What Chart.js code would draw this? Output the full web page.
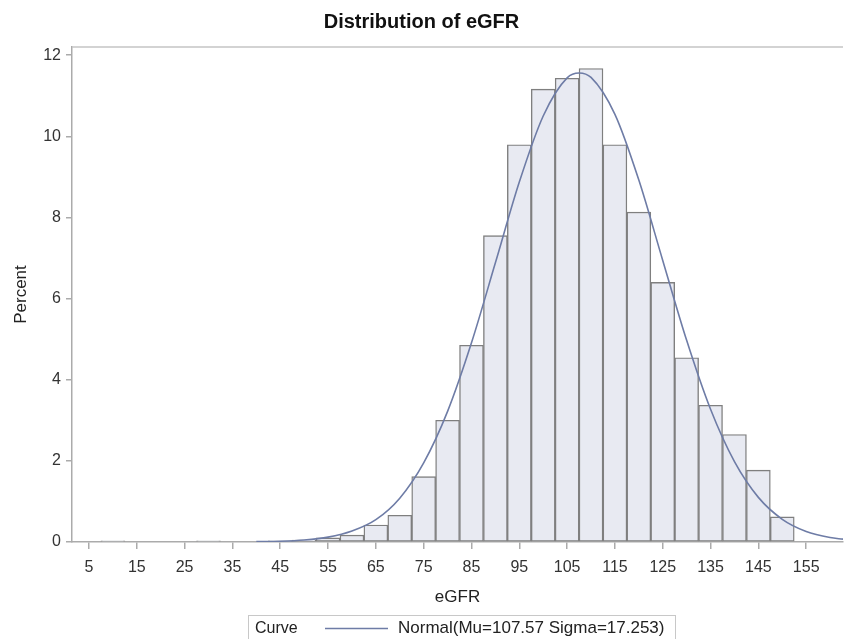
<!DOCTYPE html>
<html>
<head>
<meta charset="utf-8">
<title>Distribution of eGFR</title>
<script src="https://cdn.jsdelivr.net/npm/chart.js@4.4.1/dist/chart.umd.min.js"></script>
<style>
  html, body { margin: 0; padding: 0; background: #fff; }
  #wrap { width: 844px; height: 639px; }
</style>
</head>
<body>
<div id="wrap"><canvas id="histChart"></canvas></div>
<script>
// ヒストグラム（ビン中央値とパーセント）
const binMid = [10, 30, 45, 50, 55, 60, 65, 70, 75, 80, 85, 90, 95, 100, 105, 110, 115, 120, 125, 130, 135, 140, 145, 150];
const binPct = [0.03, 0.03, 0.03, 0.05, 0.10, 0.17, 0.42, 0.66, 1.61, 3.00, 4.85, 7.55, 9.79, 11.16, 11.43, 11.67, 9.79, 8.13, 6.40, 4.54, 3.37, 2.65, 1.77, 0.62];

// 正規曲線（図から読み取った点）
const curveX = [40, 45, 50, 55, 60, 65, 70, 75, 80, 85, 90, 95, 100, 105, 107.5, 110, 115, 120, 125, 130, 135, 140, 145, 150, 155, 160, 162.7];
const curveY = [0.01, 0.02, 0.05, 0.12, 0.27, 0.55, 1.08, 1.95, 3.22, 4.91, 6.88, 8.87, 10.50, 11.44, 11.56, 11.45, 10.54, 8.92, 6.94, 4.97, 3.27, 1.98, 1.10, 0.56, 0.26, 0.11, 0.07];

// 軸の目盛
const xTicks = [5, 15, 25, 35, 45, 55, 65, 75, 85, 95, 105, 115, 125, 135, 145, 155];
const yTicks = [0, 2, 4, 6, 8, 10, 12];
const xRange = [1.45, 162.7];
const yRange = [0, 12.2];

const FONT = "'Liberation Sans', Arial, sans-serif";
const AXIS_GRAY = '#ababab';
const CURVE_COLOR = '#6e7ca6';

// 凡例（枠付き）と上枠線
const frameLegend = {
    id: 'frameLegend',
    afterDraw(chart) {
        const ctx = chart.ctx;
        const area = chart.chartArea;
        ctx.save();
        // 上の枠線
        ctx.strokeStyle = '#c4c4c4';
        ctx.lineWidth = 1.5;
        ctx.beginPath();
        ctx.moveTo(area.left, area.top);
        ctx.lineTo(area.right, area.top);
        ctx.stroke();

        // 凡例ボックス
        const line = chart.data.datasets.find(d => d.type === 'line');
        const boxL = 248, boxR = 675, boxT = 615, boxB = 640;
        ctx.strokeStyle = '#c8c8c8';
        ctx.lineWidth = 1;
        ctx.strokeRect(boxL + 0.5, boxT + 0.5, boxR - boxL, boxB - boxT);
        const cy = (boxT + boxB) / 2 + 1;
        ctx.font = '16px ' + FONT;
        ctx.fillStyle = '#222';
        ctx.textBaseline = 'middle';
        ctx.textAlign = 'left';
        ctx.fillText('Curve', 255, cy);
        ctx.strokeStyle = line.borderColor;
        ctx.lineWidth = line.borderWidth;
        ctx.beginPath();
        ctx.moveTo(325, cy);
        ctx.lineTo(388, cy);
        ctx.stroke();
        ctx.font = '17px ' + FONT;
        ctx.fillText(line.label, 398, cy);
        ctx.restore();
    }
};

const ctx = document.getElementById('histChart').getContext('2d');
new Chart(ctx, {
    type: 'bar',
    data: {
        datasets: [
            {
                type: 'line',
                label: 'Normal(Mu=107.57 Sigma=17.253)',
                data: curveX.map((x, i) => ({ x: x, y: curveY[i] })),
                borderColor: CURVE_COLOR,
                borderWidth: 1.6,
                pointRadius: 0,
                cubicInterpolationMode: 'monotone',
                fill: false,
                order: 1
            },
            {
                type: 'bar',
                label: 'eGFR',
                data: binMid.map((x, i) => ({ x: x, y: binPct[i] })),
                backgroundColor: '#e8eaf2',
                borderColor: '#7f7f7f',
                borderWidth: 1.4,
                borderSkipped: false,
                barPercentage: 1,
                categoryPercentage: 1,
                order: 2
            }
        ]
    },
    options: {
        responsive: true,
        maintainAspectRatio: false,
        animation: false,
        layout: { padding: { left: 0, right: 1, top: 0, bottom: 31 } },
        plugins: {
            legend: { display: false },
            tooltip: { enabled: false },
            title: {
                display: true,
                text: 'Distribution of eGFR',
                color: '#111',
                font: { family: FONT, size: 20, weight: 'bold' },
                padding: { top: 10, bottom: 13 }
            }
        },
        scales: {
            x: {
                type: 'linear',
                min: xRange[0],
                max: xRange[1],
                offset: false,
                afterBuildTicks: (scale) => { scale.ticks = xTicks.map(v => ({ value: v })); },
                afterFit: (scale) => { scale.height = 66; },
                grid: { offset: false, drawOnChartArea: false, drawTicks: true, tickLength: 7, color: AXIS_GRAY, lineWidth: 1.5 },
                border: { color: AXIS_GRAY, width: 1.5 },
                ticks: { color: '#333', padding: 9, maxRotation: 0, autoSkip: false, font: { family: FONT, size: 16 } },
                title: { display: true, text: 'eGFR', color: '#222', padding: { top: 0, bottom: 0 }, font: { family: FONT, size: 17 } }
            },
            y: {
                min: yRange[0],
                max: yRange[1],
                afterBuildTicks: (scale) => { scale.ticks = yTicks.map(v => ({ value: v })); },
                afterFit: (scale) => { scale.width = 72; },
                grid: { drawOnChartArea: false, drawTicks: true, tickLength: 6, color: AXIS_GRAY, lineWidth: 1.5 },
                border: { color: AXIS_GRAY, width: 1.5 },
                ticks: { color: '#333', padding: 5, font: { family: FONT, size: 16 } },
                title: { display: true, text: 'Percent', color: '#222', padding: { top: 11, bottom: 0 }, font: { family: FONT, size: 17 } }
            }
        }
    },
    plugins: [frameLegend]
});
</script>
</body>
</html>
